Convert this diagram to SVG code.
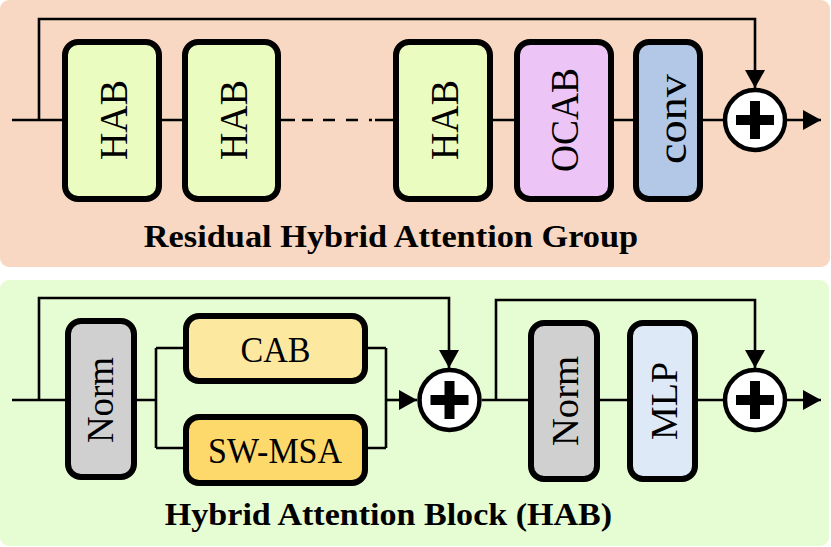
<svg xmlns="http://www.w3.org/2000/svg" width="831" height="547" viewBox="0 0 831 547">
<style>
.box{stroke:#000;stroke-width:6}
.lbl{font-family:"Liberation Serif","Times New Roman",serif;fill:#000}
.title{font-family:"Liberation Serif","Times New Roman",serif;font-weight:bold;font-size:32px;text-anchor:middle;fill:#000}
.ln{fill:none;stroke:#000;stroke-width:2.6}
.sum{fill:#fff;stroke:#000;stroke-width:4.5}
</style>
<defs>
<marker id="ah" markerUnits="userSpaceOnUse" markerWidth="19" markerHeight="20" refX="18" refY="10" orient="auto" viewBox="0 0 19 20">
<path d="M0,0 L18,10 L0,20 Z" fill="#000"/>
</marker>
<g id="plus"><rect x="-19" y="-5" width="38" height="10" fill="#000"/><rect x="-5" y="-19" width="10" height="38" fill="#000"/></g>
</defs>
<rect x="0" y="0" width="830" height="267" rx="9" fill="#f8d8c2"/>
<rect x="0" y="280" width="829" height="266" rx="9" fill="#e6fcd2"/>

<g id="connectors">
<path class="ln" d="M12,120 H65 M159,120 H185 M490,120 H517 M611,120 H636 M700,120 H723"/>
<path class="ln" d="M281,120 H295 M302,120 H313 M323,120 H335 M346,120 H358 M369,120 H372 M375,120 H396"/>
<path class="ln" d="M39,120 V19 H755 V88" marker-end="url(#ah)"/>
<path class="ln" d="M787,120 H821" marker-end="url(#ah)"/>
<path class="ln" d="M12,400 H68 M134,400 H156 M156,348 V448 M156,348 H186 M156,448 H186 M365,348 H386 M365,448 H386 M386,348 V448 M482,400 H531 M597,400 H630 M695,400 H723"/>
<path class="ln" d="M386,400 H417" marker-end="url(#ah)"/>
<path class="ln" d="M39,400 V298 H449 V368" marker-end="url(#ah)"/>
<path class="ln" d="M496,400 V300 H755 V368" marker-end="url(#ah)"/>
<path class="ln" d="M787,400 H821" marker-end="url(#ah)"/>
</g>

<g id="hab1"><rect class="box" x="65" y="42" width="94" height="157" rx="13" fill="#ebfcc0"/>
<text class="lbl" font-size="39" text-anchor="middle" textLength="80" lengthAdjust="spacingAndGlyphs" transform="translate(112,120) rotate(-90)" y="15">HAB</text></g>
<g id="hab2"><rect class="box" x="185" y="42" width="93" height="157" rx="13" fill="#ebfcc0"/>
<text class="lbl" font-size="39" text-anchor="middle" textLength="80" lengthAdjust="spacingAndGlyphs" transform="translate(231.5,120) rotate(-90)" y="15">HAB</text></g>
<g id="hab3"><rect class="box" x="396" y="42" width="94" height="157" rx="13" fill="#ebfcc0"/>
<text class="lbl" font-size="39" text-anchor="middle" textLength="80" lengthAdjust="spacingAndGlyphs" transform="translate(443,120) rotate(-90)" y="15">HAB</text></g>
<g id="ocab"><rect class="box" x="517" y="42" width="94" height="157" rx="13" fill="#ecc4f5"/>
<text class="lbl" font-size="39" text-anchor="middle" textLength="104" lengthAdjust="spacingAndGlyphs" transform="translate(564,120) rotate(-90)" y="14">OCAB</text></g>
<g id="conv"><rect class="box" x="636" y="42" width="64" height="157" rx="13" fill="#b3c8e6"/>
<text class="lbl" font-size="39" text-anchor="middle" textLength="90" lengthAdjust="spacingAndGlyphs" transform="translate(668,119) rotate(-90)" y="18">conv</text></g>
<g id="sum1"><circle class="sum" cx="755" cy="120" r="30"/><use href="#plus" x="755" y="120"/></g>
<text class="title" transform="translate(391,247) scale(1.07,1)" textLength="462" lengthAdjust="spacingAndGlyphs">Residual Hybrid Attention Group</text>

<g id="norm1"><rect class="box" x="68" y="321" width="66" height="156" rx="13" fill="#d0d0d0"/>
<text class="lbl" font-size="38" text-anchor="middle" textLength="86" lengthAdjust="spacingAndGlyphs" transform="translate(101,400) rotate(-90)" y="12">Norm</text></g>
<g id="cab"><rect class="box" x="186" y="316" width="179" height="65" rx="13" fill="#fde8a0"/>
<text class="lbl" font-size="35" text-anchor="middle" textLength="70" lengthAdjust="spacingAndGlyphs" x="275.5" y="362">CAB</text></g>
<g id="swmsa"><rect class="box" x="186" y="417" width="179" height="66" rx="13" fill="#fdd96b"/>
<text class="lbl" font-size="35" text-anchor="middle" textLength="134" lengthAdjust="spacingAndGlyphs" x="275" y="463">SW-MSA</text></g>
<g id="sum2"><circle class="sum" cx="449.5" cy="400" r="30"/><use href="#plus" x="449.5" y="400"/></g>
<g id="norm2"><rect class="box" x="531" y="323" width="66" height="156" rx="13" fill="#d0d0d0"/>
<text class="lbl" font-size="38" text-anchor="middle" textLength="90" lengthAdjust="spacingAndGlyphs" transform="translate(564,401) rotate(-90)" y="14">Norm</text></g>
<g id="mlp"><rect class="box" x="630" y="323" width="65" height="156" rx="13" fill="#dde9f6"/>
<text class="lbl" font-size="38" text-anchor="middle" textLength="78" lengthAdjust="spacingAndGlyphs" transform="translate(662.5,401) rotate(-90)" y="14.5">MLP</text></g>
<g id="sum3"><circle class="sum" cx="755" cy="400" r="30"/><use href="#plus" x="755" y="400"/></g>
<text class="title" transform="translate(388.5,525) scale(1.07,1)" textLength="418" lengthAdjust="spacingAndGlyphs">Hybrid Attention Block (HAB)</text>
</svg>
